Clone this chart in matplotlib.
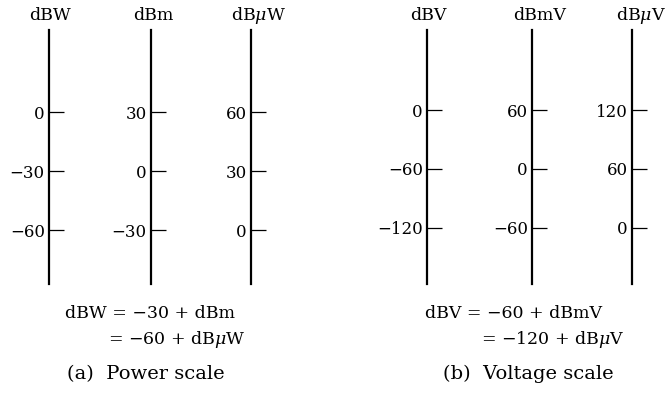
import matplotlib
matplotlib.use('Agg')
import matplotlib.pyplot as plt

plt.rcParams['font.family'] = 'DejaVu Serif'
plt.rcParams['mathtext.fontset'] = 'dejavuserif'

# ==============================================================
# DADOS
# ==============================================================

power_units = ['dBW', 'dBm', r'dB$\mu$W']
power_ticks = [[0, -30, -60], [30, 0, -30], [60, 30, 0]]
power_limits = [(-87.4, 41.7), (-57.4, 71.7), (-27.4, 101.7)]

voltage_units = ['dBV', 'dBmV', r'dB$\mu$V']
voltage_ticks = [[0, -60, -120], [60, 0, -60], [120, 60, 0]]
voltage_limits = [(-177, 81.4), (-117, 141.4), (-57, 201.4)]

# ==============================================================
# FIGURA
# ==============================================================

W, H = 667, 400
fig = plt.figure(figsize=(W / 100, H / 100), dpi=100)

line_x = [49, 151, 251, 427, 532, 632]
title_x = [50, 153, 258, 428, 540, 641]

units = power_units + voltage_units
ticks = power_ticks + voltage_ticks
limits = power_limits + voltage_limits

for i in range(6):
    ax = fig.add_axes([line_x[i] / W, 1 - 284 / H, 0.05, (284 - 30) / H])
    ax.set_ylim(*limits[i])
    ax.set_yticks(ticks[i])
    ax.set_xticks([])
    for s in ['top', 'right', 'bottom']:
        ax.spines[s].set_visible(False)
    ax.spines['left'].set_linewidth(1.6)
    ax.tick_params(axis='y', direction='in', length=11, width=0.9,
                   pad=3, labelsize=12)
    ax.patch.set_visible(False)
    fig.text(title_x[i] / W, 1 - 15 / H, units[i], ha='center', va='center',
             fontsize=12.5)

# equações e legendas
fs = 12.5
fig.text(65 / W, 1 - 313 / H, 'dBW = −30 + dBm', va='center', fontsize=fs)
fig.text(108 / W, 1 - 340 / H, r'= −60 + dB$\mu$W', va='center', fontsize=fs)
fig.text(67 / W, 1 - 374 / H, '(a)  Power scale', va='center', fontsize=14)

fig.text(425 / W, 1 - 313 / H, 'dBV = −60 + dBmV', va='center', fontsize=fs)
fig.text(481 / W, 1 - 340 / H, r'= −120 + dB$\mu$V', va='center', fontsize=fs)
fig.text(443 / W, 1 - 374 / H, '(b)  Voltage scale', va='center', fontsize=14)

fig.savefig('out.png', dpi=100, facecolor='white')
